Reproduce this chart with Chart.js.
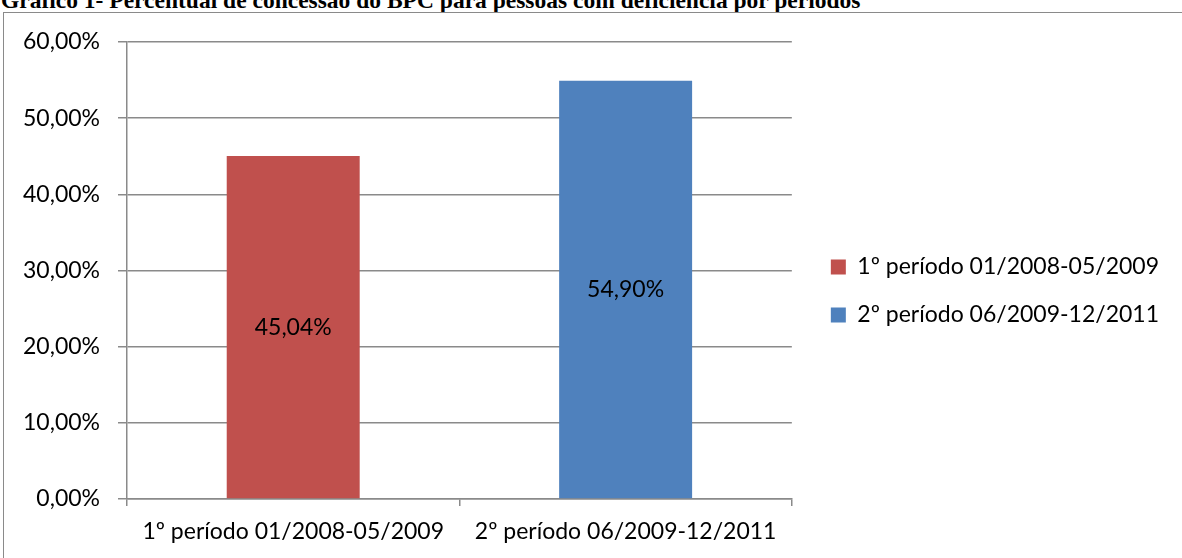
<!DOCTYPE html>
<html>
<head>
<meta charset="utf-8">
<script src="https://cdn.jsdelivr.net/npm/chart.js@4/dist/chart.umd.min.js"></script>
<style>
  html, body { margin:0; padding:0; background:#fff; overflow:hidden; width:1182px; height:558px; }
  #title { position:absolute; left:1px; top:-13px; line-height:24px; font:bold 23.5px "Liberation Serif", "Times New Roman", serif; color:#000; white-space:nowrap; }
  #frame { position:absolute; left:3px; top:12px; width:1220px; height:600px; border:1px solid #8a8a8a; box-sizing:border-box; }
  #wrap { position:absolute; left:5px; top:13px; width:1177px; height:545px; }
</style>
</head>
<body>
<div id="title">Gráfico 1- Percentual de concessão do BPC para pessoas com deficiência por períodos</div>
<div id="frame"></div>
<div id="wrap"><canvas id="c"></canvas></div>
<script>
const categories = ['1º período 01/2008-05/2009', '2º período 06/2009-12/2011'];
const seriesNames = ['1º período 01/2008-05/2009', '2º período 06/2009-12/2011'];
const series1 = [45.04, null];
const series2 = [null, 54.90];
const valueLabels = ['45,04%', '54,90%'];
const yTickLabels = ['0,00%', '10,00%', '20,00%', '30,00%', '40,00%', '50,00%', '60,00%'];
const colors = ['#C0504D', '#4F81BD'];

const FONT = { family: 'Lato, "Liberation Sans", sans-serif', size: 23 };

const barLabels = {
  id: 'barLabels',
  afterDatasetsDraw(chart) {
    const ctx = chart.ctx;
    ctx.save();
    ctx.font = FONT.size + 'px ' + FONT.family;
    ctx.fillStyle = '#000';
    ctx.textAlign = 'center';
    ctx.textBaseline = 'middle';
    chart.data.datasets.forEach((ds, di) => {
      const meta = chart.getDatasetMeta(di);
      meta.data.forEach((el, i) => {
        if (ds.data[i] == null) return;
        ctx.fillText(valueLabels[i], el.x, (el.y + el.base) / 2);
      });
    });
    ctx.restore();
  }
};

new Chart(document.getElementById('c'), {
  type: 'bar',
  data: {
    labels: categories,
    datasets: [
      { label: seriesNames[0], data: series1, backgroundColor: colors[0], categoryPercentage: 0.4, barPercentage: 1 },
      { label: seriesNames[1], data: series2, backgroundColor: colors[1], categoryPercentage: 0.4, barPercentage: 1 }
    ]
  },
  options: {
    responsive: true,
    maintainAspectRatio: false,
    animation: false,
    layout: { padding: { left: 1, top: 29, right: 13, bottom: 12 } },
    plugins: {
      title: { display: false },
      tooltip: { enabled: false },
      legend: {
        position: 'right',
        align: 'start',
        maxWidth: 420,
        title: { display: true, text: '', font: { size: 1, lineHeight: 1 }, padding: { top: 187.5, bottom: 0 } },
        labels: { boxWidth: 15, boxHeight: 15, padding: 25, color: '#000', font: FONT }
      }
    },
    scales: {
      x: {
        stacked: true,
        grid: { display: true, drawOnChartArea: false, drawTicks: true, tickLength: 7, color: '#8a8a8a', lineWidth: 1.5, offset: true },
        border: { display: true, color: '#8a8a8a', width: 1.5 },
        ticks: { color: '#000', font: FONT, padding: 12, maxRotation: 0 },
        afterFit(s) { s.height = 47; }
      },
      y: {
        min: 0, max: 60,
        ticks: { stepSize: 10, color: '#000', font: FONT, padding: 18, callback: (v, i) => yTickLabels[i] },
        grid: { color: '#8a8a8a', lineWidth: 1.5, tickLength: 9, drawTicks: true },
        border: { display: true, color: '#8a8a8a', width: 1.5 },
        afterFit(s) { s.width = 121; s.paddingTop = 0; s.paddingBottom = 0; }
      },
      gap: {
        type: 'linear', position: 'right', display: true,
        grid: { display: false }, ticks: { display: false }, border: { display: false },
        afterFit(s) { s.width = 14; }
      }
    }
  },
  plugins: [barLabels]
});
</script>
</body>
</html>
